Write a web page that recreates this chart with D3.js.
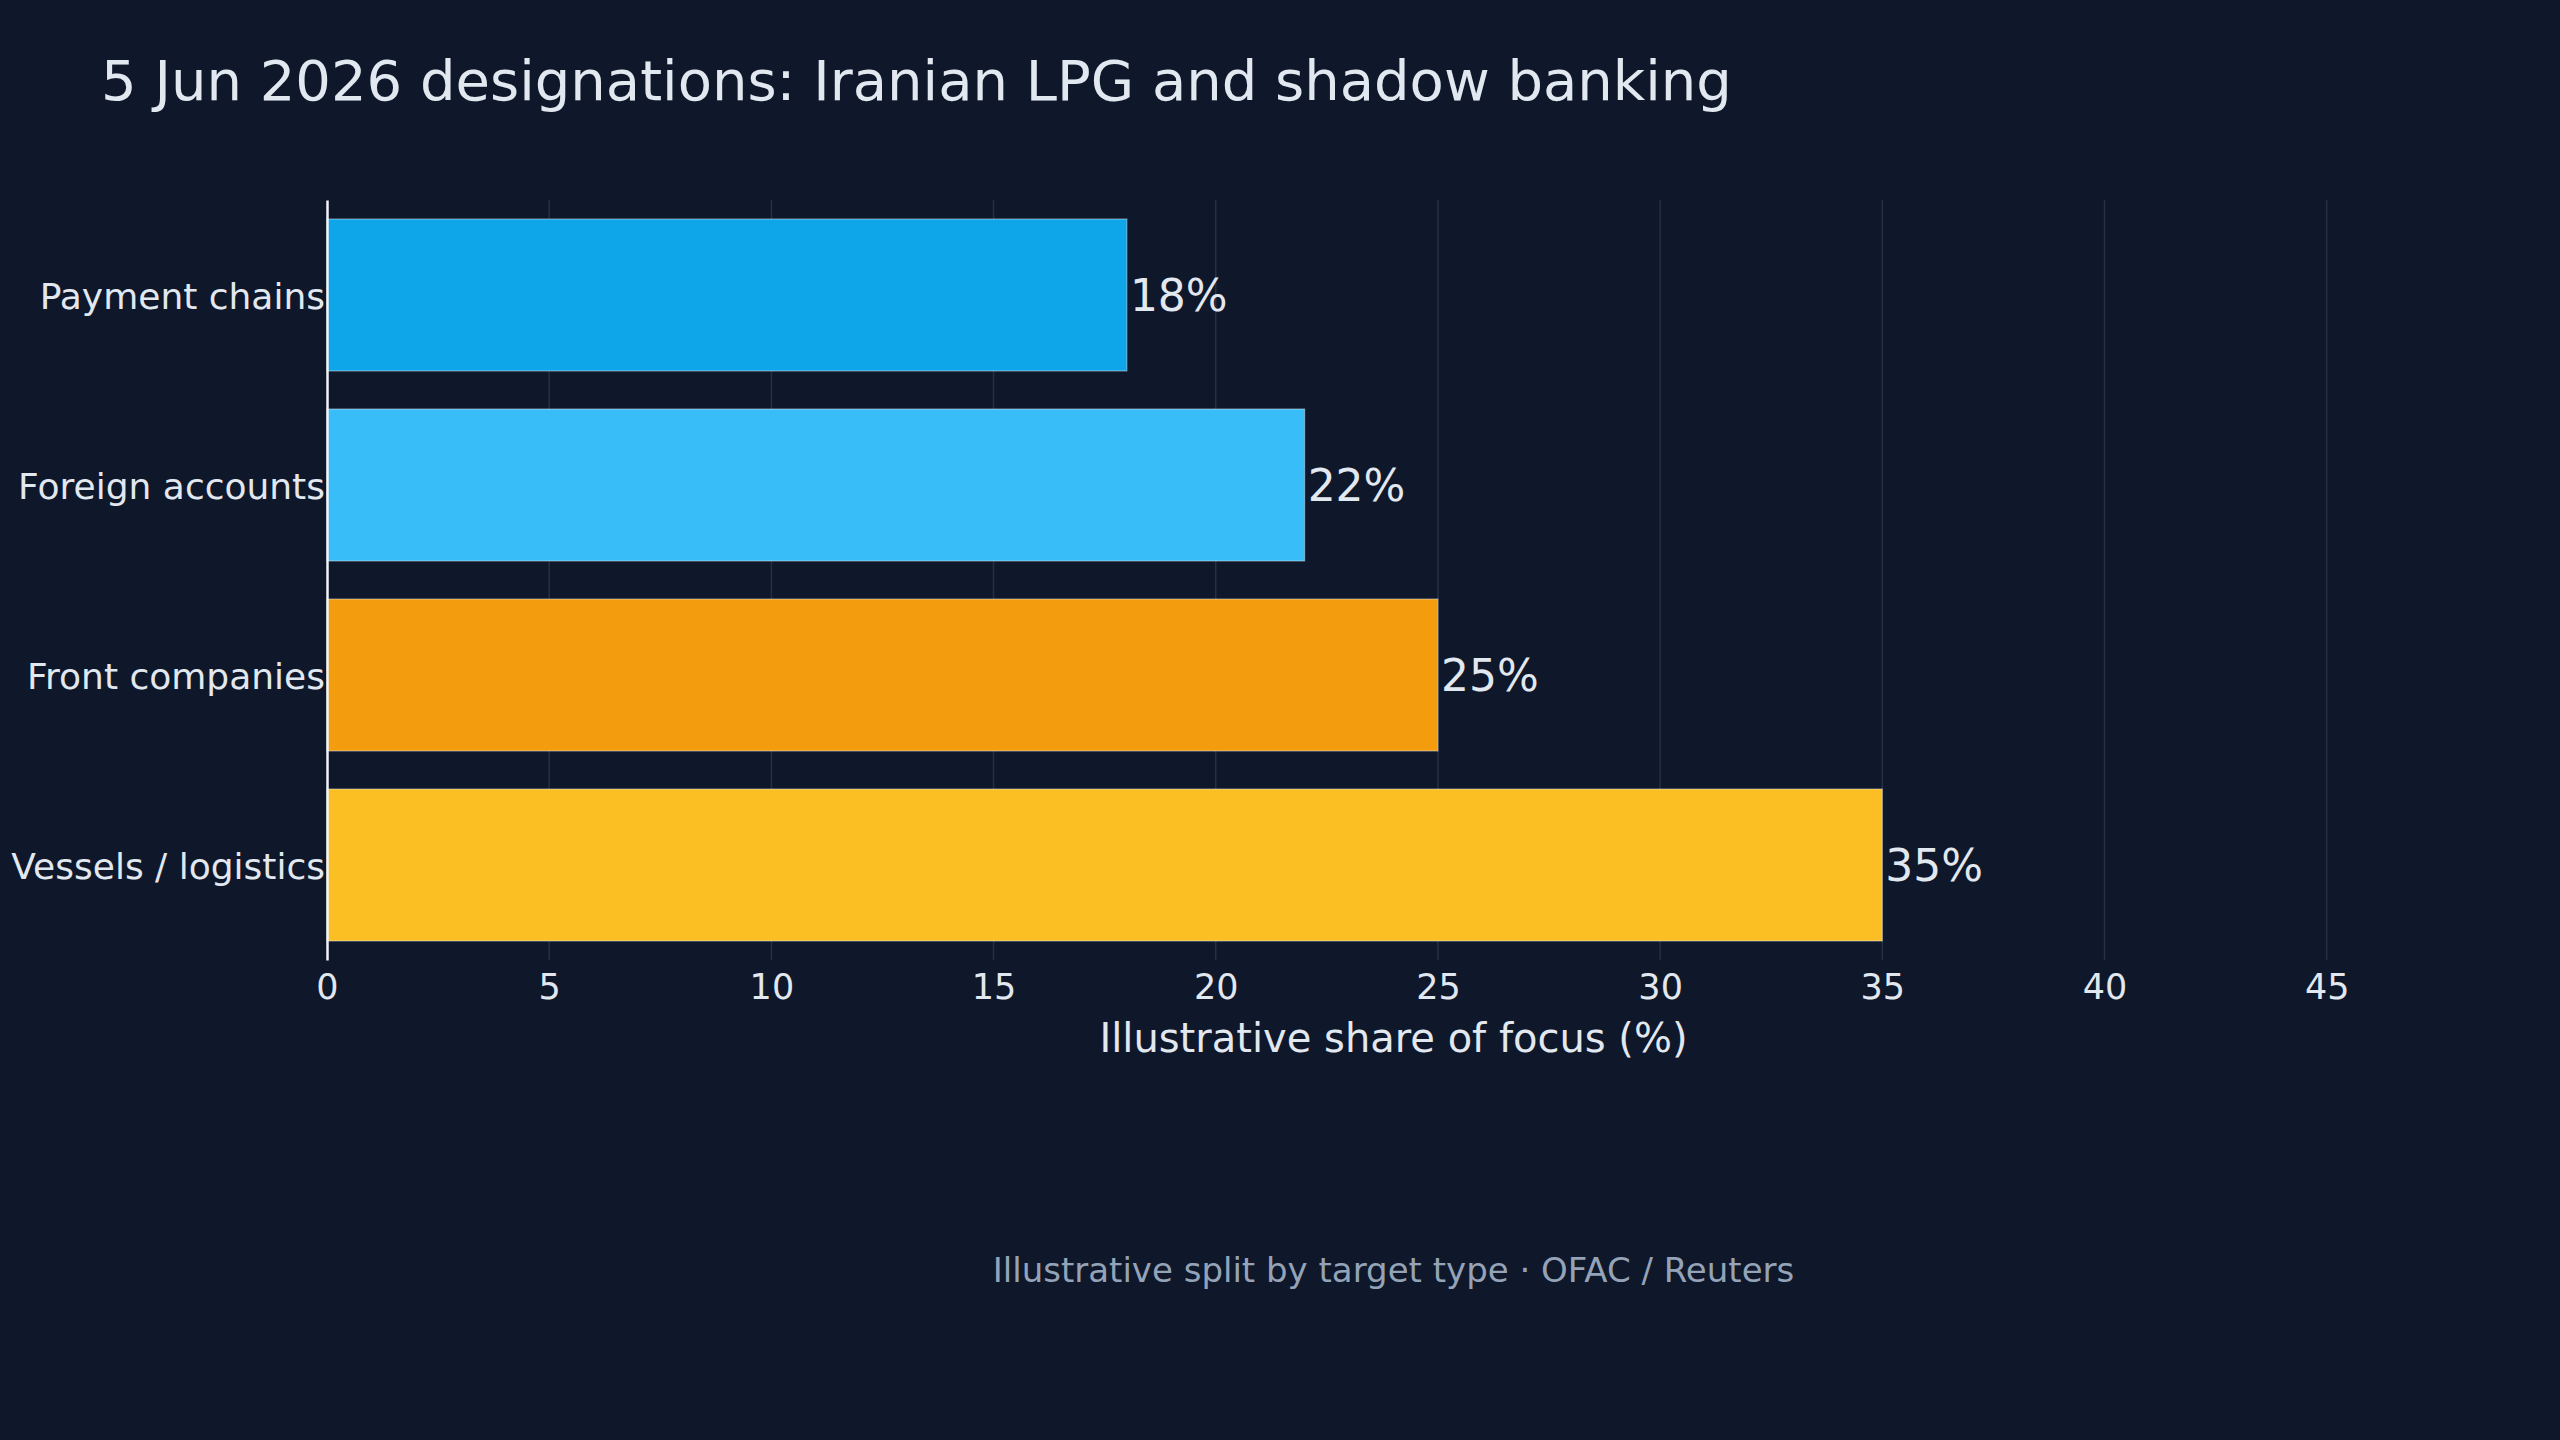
<!DOCTYPE html>
<html>
<head>
<meta charset="utf-8">
<script src="https://cdn.jsdelivr.net/npm/d3@7"></script>
<style>
  html, body { margin: 0; padding: 0; background: #0f172a; }
  svg { display: block; font-family: "DejaVu Sans", sans-serif; }
</style>
</head>
<body>
<div id="chart"></div>
<script>
// categories top to bottom
const categories = ['Payment chains', 'Foreign accounts', 'Front companies', 'Vessels / logistics'];
const shares = [18, 22, 25, 35];
const barColors = ['#0ea5e9', '#38bdf8', '#f39c0e', '#fbbf24'];
const xTicks = [0, 5, 10, 15, 20, 25, 30, 35, 40, 45];

const titleText = '5 Jun 2026 designations: Iranian LPG and shadow banking';
const xLabel = 'Illustrative share of focus (%)';
const footText = 'Illustrative split by target type \u00b7 OFAC / Reuters';

let width = 2560,
    height = 1440,
    margin = { top: 200, left: 327, right: 2560 - 2460, bottom: 1440 - 960 };

let svg = d3.select('#chart')
    .append('svg')
    .attr('width', width)
    .attr('height', height);

svg.append('rect')
    .attr('width', width)
    .attr('height', height)
    .attr('fill', '#0f172a');

let xScale = d3.scaleLinear()
    .domain([0, 48])
    .range([margin.left, width - margin.right]);

let yScale = d3.scaleBand()
    .domain(categories)
    .range([margin.top, height - margin.bottom])
    .paddingInner(0.2)
    .paddingOuter(0.1);

// grid
svg.append('g')
    .selectAll('line')
    .data(xTicks.filter(d => d > 0))
    .join('line')
    .attr('x1', d => xScale(d))
    .attr('x2', d => xScale(d))
    .attr('y1', margin.top)
    .attr('y2', height - margin.bottom)
    .attr('stroke', '#253043')
    .attr('stroke-width', 1.5);

// bars
svg.append('g')
    .selectAll('rect')
    .data(categories)
    .join('rect')
    .attr('x', xScale(0))
    .attr('y', d => yScale(d))
    .attr('width', (d, i) => xScale(shares[i]) - xScale(0))
    .attr('height', yScale.bandwidth())
    .attr('fill', (d, i) => barColors[i])
    .attr('stroke', 'rgba(226,232,240,0.45)')
    .attr('stroke-width', 1.2);

// value labels
svg.append('g')
    .selectAll('text')
    .data(categories)
    .join('text')
    .attr('x', (d, i) => xScale(shares[i]) + 3)
    .attr('y', d => yScale(d) + yScale.bandwidth() / 2)
    .attr('dy', '0.36em')
    .attr('fill', '#e2e8f0')
    .style('font-size', '44px')
    .text((d, i) => shares[i] + '%');

// x axis
let xAxis = d3.axisBottom(xScale)
    .tickValues(xTicks)
    .tickSize(0)
    .tickPadding(14);

let gx = svg.append('g')
    .attr('transform', 'translate(0,' + (height - margin.bottom) + ')')
    .call(xAxis);
gx.select('.domain').remove();
gx.selectAll('text')
    .attr('fill', '#e2e8f0')
    .style('font-family', '"DejaVu Sans", sans-serif')
    .style('font-size', '35px');

// y axis
let yAxis = d3.axisLeft(yScale)
    .tickSize(0)
    .tickPadding(2);

let gy = svg.append('g')
    .attr('transform', 'translate(' + margin.left + ',0)')
    .call(yAxis);
gy.select('.domain')
    .attr('stroke', '#f1f5f9')
    .attr('stroke-width', 2.5);
gy.selectAll('text')
    .attr('fill', '#e2e8f0')
    .attr('dy', '0.4em')
    .style('font-family', '"DejaVu Sans", sans-serif')
    .style('font-size', '36px');

// axis title
svg.append('text')
    .attr('x', (xScale.range()[0] + xScale.range()[1]) / 2)
    .attr('y', 1052)
    .attr('text-anchor', 'middle')
    .attr('fill', '#e2e8f0')
    .style('font-size', '40px')
    .text(xLabel);

// title
svg.append('text')
    .attr('x', 101)
    .attr('y', 100)
    .attr('fill', '#e2e8f0')
    .style('font-size', '56px')
    .text(titleText);

// footer
svg.append('text')
    .attr('x', (xScale.range()[0] + xScale.range()[1]) / 2)
    .attr('y', 1282)
    .attr('text-anchor', 'middle')
    .attr('fill', '#94a3b8')
    .style('font-size', '34px')
    .text(footText);
</script>
</body>
</html>
